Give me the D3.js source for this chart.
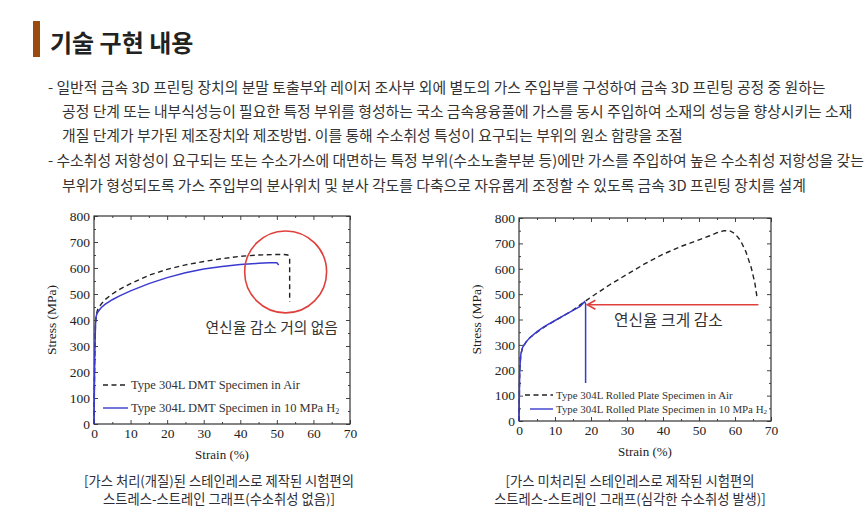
<!DOCTYPE html>
<html>
<head>
<meta charset="utf-8">
<script src="https://cdn.jsdelivr.net/npm/d3@7"></script>
<style>
  body { margin: 0; background: #fff; }
  svg { display: block; }
</style>
</head>
<body>
<svg id="chart" width="865" height="517"></svg>
<script>
// ---- data ----
var titleText = "기술 구현 내용";
var bodyLines = [
  "- 일반적 금속 3D 프린팅 장치의 분말 토출부와 레이저 조사부 외에 별도의 가스 주입부를 구성하여 금속 3D 프린팅 공정 중 원하는",
  "공정 단계 또는 내부식성능이 필요한 특정 부위를 형성하는 국소 금속용융풀에 가스를 동시 주입하여 소재의 성능을 향상시키는 소재",
  "개질 단계가 부가된 제조장치와 제조방법. 이를 통해 수소취성 특성이 요구되는 부위의 원소 함량을 조절",
  "- 수소취성 저항성이 요구되는 또는 수소가스에 대면하는 특정 부위(수소노출부분 등)에만 가스를 주입하여 높은 수소취성 저항성을 갖는",
  "부위가 형성되도록 가스 주입부의 분사위치 및 분사 각도를 다축으로 자유롭게 조정할 수 있도록 금속 3D 프린팅 장치를 설계"
];

var xTicks = [0, 10, 20, 30, 40, 50, 60, 70];
var yTicks = [0, 100, 200, 300, 400, 500, 600, 700, 800];

// left panel: DMT specimen (gas treated)
var leftAir = [[0,0],[0.2,250],[0.4,380],[0.6,420],[1,440],[2,462],[3,478],[5,500],[7,518],[10,540],
  [15,572],[20,595],[25,612],[30,625],[35,636],[40,645],[45,650],[50,652],[52,652],[53,650],[53.5,640],[53.5,470]];
var leftH2 = [[0,0],[0.2,250],[0.4,380],[0.6,415],[1,430],[2,448],[3,460],[5,478],[7,493],[10,512],
  [15,540],[20,563],[25,582],[30,596],[35,606],[40,613],[45,618],[48,620],[50,620],[50.5,612]];
var leftLegend = ["Type 304L DMT Specimen in Air", "Type 304L DMT Specimen in 10 MPa H"];
var leftNote = "연신율 감소 거의 없음";
var leftNoteAt = [48.6, 374];
var leftCircle = [52.4, 585, 11.2];   // center strain, stress, radius in strain units

// right panel: rolled plate (untreated)
var rightAir = [[0,0],[0.2,200],[0.5,262],[1,290],[2,312],[3,328],[5,350],[7,370],[10,395],[13,420],
  [15,437],[18,468],[20,488],[25,535],[30,578],[35,620],[40,657],[45,688],[50,714],[53,730],[55,742],
  [57,750],[58.5,750],[60,738],[61.5,712],[63,668],[64.5,605],[65.5,545],[66.2,480]];
var rightH2 = [[0,0],[0.2,200],[0.5,262],[1,290],[2,312],[3,328],[5,352],[7,372],[10,396],[13,420],
  [15,436],[17,452],[18.2,470],[18.5,462],[18.5,150]];
var rightLegend = ["Type 304L Rolled Plate Specimen in Air", "Type 304L Rolled Plate Specimen in 10 MPa H"];
var rightNote = "연신율 크게 감소";
var rightNoteAt = [41.5, 400];
var rightArrow = [66.5, 19, 458];     // from strain, to strain, at stress

var leftCaption = ["[가스 처리(개질)된 스테인레스로 제작된 시험편의", "스트레스-스트레인 그래프(수소취성 없음)]"];
var rightCaption = ["[가스 미처리된 스테인레스로 제작된 시험편의", "스트레스-스트레인 그래프(심각한 수소취성 발생)]"];

var svg = d3.select("#chart");
var KR = "'Noto Sans CJK KR', 'Noto Sans', sans-serif";
var SERIF = "'Liberation Serif', 'DejaVu Serif', serif";
var RED = "#e0403c", BLUE = "#3a3ad0";

// header
svg.append("rect").attr("x", 33).attr("y", 21).attr("width", 7).attr("height", 36).attr("fill", "#9b4a0f");
svg.append("text").attr("x", 50).attr("y", 41).attr("dominant-baseline", "central")
  .attr("font-family", KR).attr("font-weight", "bold").attr("font-size", 24).attr("fill", "#222")
  .text(titleText);

// body text, squeezed a little so the first line spans like the picture
var lineY = [87, 111, 135, 160, 185];
var body = svg.append("g").attr("font-family", KR).attr("fill", "#333");
var rows = body.selectAll("text").data(bodyLines).enter().append("text")
  .attr("dominant-baseline", "central")
  .attr("font-size", 14.8)
  .text(d => d);
var sx = 778 / rows.node().getComputedTextLength();
rows.attr("transform", (d, i) => "translate(" + (d.startsWith("-") ? 48 : 62) + "," + lineY[i] + ") scale(" + sx + ",1)");

function panel(box, air, h2, legend, legendBox) {
  var x = d3.scaleLinear().domain([0, 70]).range([box.x0, box.x1]);
  var y = d3.scaleLinear().domain([0, 800]).range([box.y0, box.y1]);
  var g = svg.append("g");

  var minorX = d3.range(5, 70, 10), minorY = d3.range(50, 800, 100);
  function axes(ax, scale, major, minor, tr, labels) {
    var a = g.append("g").attr("transform", tr)
      .call(ax(scale).tickValues(major).tickSize(-4).tickPadding(4).tickFormat(labels ? d3.format("d") : ""));
    a.append("g").call(ax(scale).tickValues(minor).tickSize(-2).tickFormat(""));
    a.selectAll(".domain").remove();
    a.selectAll("line").attr("stroke", "#444");
    a.selectAll("text").attr("font-family", SERIF).attr("font-size", 13.5).attr("fill", "#222");
    return a;
  }
  axes(d3.axisBottom, x, xTicks, minorX, "translate(0," + box.y0 + ")", true);
  axes(d3.axisTop, x, xTicks, minorX, "translate(0," + box.y1 + ")", false);
  axes(d3.axisLeft, y, yTicks, minorY, "translate(" + box.x0 + ",0)", true);
  axes(d3.axisRight, y, yTicks, minorY, "translate(" + box.x1 + ",0)", false);

  g.append("rect").attr("x", box.x0).attr("y", box.y1)
    .attr("width", box.x1 - box.x0).attr("height", box.y0 - box.y1)
    .attr("fill", "none").attr("stroke", "#333").attr("stroke-width", 1.2);

  var line = d3.line().x(d => x(d[0])).y(d => y(d[1]));
  g.append("path").datum(air).attr("d", line)
    .attr("fill", "none").attr("stroke", "#222").attr("stroke-width", 1.4).attr("stroke-dasharray", "5,3.5");
  g.append("path").datum(h2).attr("d", line)
    .attr("fill", "none").attr("stroke", BLUE).attr("stroke-width", 1.5);

  g.append("text").attr("transform", "translate(" + (box.x0 - 38) + "," + ((box.y0 + box.y1) / 2) + ") rotate(-90)")
    .attr("text-anchor", "middle").attr("font-family", SERIF).attr("font-size", 13.5).attr("fill", "#222")
    .text("Stress (MPa)");
  g.append("text").attr("x", (box.x0 + box.x1) / 2).attr("y", box.y0 + 35)
    .attr("text-anchor", "middle").attr("font-family", SERIF).attr("font-size", 13).attr("fill", "#222")
    .text("Strain (%)");

  // legend
  var lg = g.append("g").attr("font-family", SERIF).attr("font-size", legendBox.fs).attr("fill", "#333");
  legend.forEach(function(t, i) {
    var yy = legendBox.y[i];
    lg.append("line").attr("x1", legendBox.x1[i]).attr("x2", legendBox.x2).attr("y1", yy).attr("y2", yy)
      .attr("stroke", i ? BLUE : "#222").attr("stroke-width", 1.4).attr("stroke-dasharray", i ? null : "5,3.5");
    var tx = lg.append("text").attr("x", legendBox.x2 + 3).attr("y", yy).attr("dominant-baseline", "central").text(t);
    if (i) tx.append("tspan").attr("font-size", legendBox.fs * 0.65).attr("dy", 3).text("2");
  });
  return {x: x, y: y, g: g};
}

var L = panel({x0: 94, x1: 350, y0: 424, y1: 216}, leftAir, leftH2, leftLegend,
  {x1: [103, 103], x2: 128, y: [385, 408], fs: 12.5});
var R = panel({x0: 519, x1: 771, y0: 421, y1: 218}, rightAir, rightH2, rightLegend,
  {x1: [525, 530], x2: 553, y: [395, 409], fs: 10.9});

// left annotation
L.g.append("circle").attr("cx", L.x(leftCircle[0])).attr("cy", L.y(leftCircle[1]))
  .attr("r", L.x(leftCircle[2]) - L.x(0))
  .attr("fill", "none").attr("stroke", RED).attr("stroke-width", 1.6);
L.g.append("text").attr("x", L.x(leftNoteAt[0])).attr("y", L.y(leftNoteAt[1]))
  .attr("text-anchor", "middle").attr("dominant-baseline", "central")
  .attr("font-family", KR).attr("font-size", 14.8).attr("fill", "#333").text(leftNote);

// right annotation
var ay = R.y(rightArrow[2]), ax0 = R.x(rightArrow[0]), ax1 = R.x(rightArrow[1]);
R.g.append("line").attr("x1", ax0).attr("x2", ax1).attr("y1", ay).attr("y2", ay)
  .attr("stroke", RED).attr("stroke-width", 1.6);
R.g.append("path").attr("d", "M" + (ax1 + 8) + "," + (ay - 4.5) + "L" + ax1 + "," + ay + "L" + (ax1 + 8) + "," + (ay + 4.5))
  .attr("fill", "none").attr("stroke", RED).attr("stroke-width", 1.6);
R.g.append("text").attr("x", R.x(rightNoteAt[0])).attr("y", R.y(rightNoteAt[1]))
  .attr("text-anchor", "middle").attr("dominant-baseline", "central")
  .attr("font-family", KR).attr("font-size", 15.8).attr("fill", "#333").text(rightNote);

// captions
function caption(lines, cx) {
  svg.append("g").selectAll("text").data(lines).enter().append("text")
    .attr("x", cx).attr("y", (d, i) => 480.5 + i * 18)
    .attr("text-anchor", "middle").attr("dominant-baseline", "central")
    .attr("font-family", KR).attr("font-size", 13.3).attr("fill", "#2e2e3a").text(d => d);
}
caption(leftCaption, 219);
caption(rightCaption, 630);
</script>
</body>
</html>
